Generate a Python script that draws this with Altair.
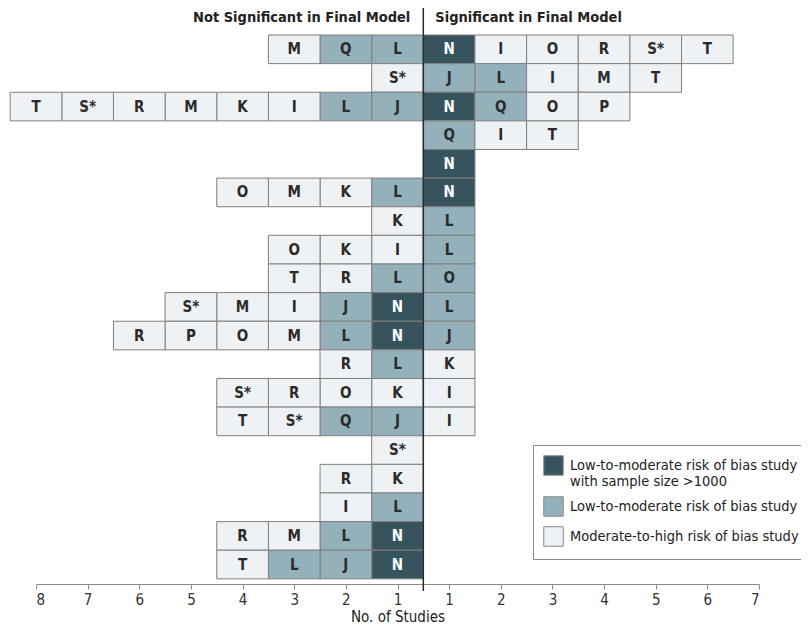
import altair as alt
import pandas as pd

# ---- data: each row lists cells from position 1 outward ----
left_letters = [
    ["L", "Q", "M"],
    ["S*"],
    ["J", "L", "I", "K", "M", "R", "S*", "T"],
    [],
    [],
    ["L", "K", "M", "O"],
    ["K"],
    ["I", "K", "O"],
    ["L", "R", "T"],
    ["N", "J", "I", "M", "S*"],
    ["N", "L", "M", "O", "P", "R"],
    ["L", "R"],
    ["K", "O", "R", "S*"],
    ["J", "Q", "S*", "T"],
    ["S*"],
    ["K", "R"],
    ["L", "I"],
    ["N", "L", "M", "R"],
    ["N", "J", "L", "T"],
]
left_risk = [
    ["m", "m", "l"],
    ["l"],
    ["m", "m", "l", "l", "l", "l", "l", "l"],
    [],
    [],
    ["m", "l", "l", "l"],
    ["l"],
    ["l", "l", "l"],
    ["m", "l", "l"],
    ["d", "m", "l", "l", "l"],
    ["d", "m", "l", "l", "l", "l"],
    ["m", "l"],
    ["l", "l", "l", "l"],
    ["m", "m", "l", "l"],
    ["l"],
    ["l", "l"],
    ["m", "l"],
    ["d", "m", "l", "l"],
    ["d", "m", "m", "l"],
]
right_letters = [
    ["N", "I", "O", "R", "S*", "T"],
    ["J", "L", "I", "M", "T"],
    ["N", "Q", "O", "P"],
    ["Q", "I", "T"],
    ["N"],
    ["N"],
    ["L"],
    ["L"],
    ["O"],
    ["L"],
    ["J"],
    ["K"],
    ["I"],
    ["I"],
    [], [], [], [], [],
]
right_risk = [
    ["d", "l", "l", "l", "l", "l"],
    ["m", "m", "l", "l", "l"],
    ["d", "m", "l", "l"],
    ["m", "l", "l"],
    ["d"],
    ["d"],
    ["m"],
    ["m"],
    ["m"],
    ["m"],
    ["m"],
    ["l"],
    ["l"],
    ["l"],
    [], [], [], [], [],
]

risk_names = {
    "d": "Low-to-moderate risk of bias study with sample size >1000",
    "m": "Low-to-moderate risk of bias study",
    "l": "Moderate-to-high risk of bias study",
}
risk_order = [risk_names["d"], risk_names["m"], risk_names["l"]]
risk_colors = ["#37535e", "#93b0bb", "#eef2f5"]

headers = ["Not Significant in Final Model", "Significant in Final Model"]
tick_values = [-7.5, -6.5, -5.5, -4.5, -3.5, -2.5, -1.5, -0.5,
               0.5, 1.5, 2.5, 3.5, 4.5, 5.5, 6.5]

FONT = "Liberation Sans Narrow, DejaVu Sans Condensed, Roboto Condensed, Roboto, sans-serif"

records = []
n_rows = len(left_letters)
for r in range(n_rows):
    for k, (let, rk) in enumerate(zip(left_letters[r], left_risk[r]), start=1):
        records.append(dict(row=r + 1, x=-k, x2=-(k - 1), letter=let, risk=risk_names[rk]))
    for k, (let, rk) in enumerate(zip(right_letters[r], right_risk[r]), start=1):
        records.append(dict(row=r + 1, x=k - 1, x2=k, letter=let, risk=risk_names[rk]))
df = pd.DataFrame(records)
df["y0"] = df["row"] - 1
df["y1"] = df["row"]
df["xc"] = (df["x"] + df["x2"]) / 2
df["yc"] = df["row"] - 0.5
df["dark"] = df["risk"] == risk_names["d"]

x_scale = alt.Scale(domain=[-7.5, 6.5], nice=False, zero=False)
y_scale = alt.Scale(domain=[0, 19.18], nice=False, zero=False, reverse=True)
AX_TITLE = "No. of Studies"

x_axis = alt.Axis(
    values=tick_values,
    labelExpr="abs(datum.value) + 0.5",
    grid=False,
    domainColor="#8a8a8a",
    tickColor="#8a8a8a",
    tickSize=5,
    labelFont=FONT,
    labelFontSize=15,
    labelColor="#333333",
    labelPadding=3,
    title=AX_TITLE,
    titleFont=FONT,
    titleFontSize=15,
    titleFontWeight="normal",
    titleColor="#222222",
    titlePadding=2,
)

legend = alt.Legend(
    title=None,
    orient="none",
    legendX=497,
    legendY=410,
    symbolType="square",
    symbolSize=380,
    symbolStrokeColor="#8a8a8a",
    symbolStrokeWidth=1,
    symbolOpacity=1,
    labelFont=FONT,
    labelFontSize=14.5,
    labelColor="#222222",
    labelLimit=400,
    labelOffset=6,
    strokeColor="#8a8a8a",
    fillColor="white",
    padding=10,
    rowPadding=5,
    labelExpr=(
        "datum.label == '" + risk_names["d"] + "' ? "
        "['Low-to-moderate risk of bias study', 'with sample size >1000'] : datum.label"
    ),
)

base = alt.Chart(df)

rects = base.mark_rect(stroke="#7f7f7f", strokeWidth=1).encode(
    x=alt.X("x:Q", scale=x_scale, axis=x_axis),
    x2="x2:Q",
    y=alt.Y("y0:Q", scale=y_scale, axis=None),
    y2="y1:Q",
    fill=alt.Fill("risk:N", scale=alt.Scale(domain=risk_order, range=risk_colors), legend=legend),
)

letters = base.mark_text(font=FONT, fontWeight="bold", fontSize=15, baseline="middle").encode(
    x=alt.X("xc:Q", scale=x_scale, title=AX_TITLE),
    y=alt.Y("yc:Q", scale=y_scale, axis=None),
    text="letter:N",
    color=alt.condition("datum.dark", alt.value("white"), alt.value("#2b2b2b")),
)

divider = alt.Chart(pd.DataFrame({"x": [0]})).mark_rule(color="#2b2b2b", strokeWidth=1.5).encode(
    x=alt.X("x:Q", scale=x_scale, title=AX_TITLE),
    y=alt.value(-27),
    y2=alt.value(556),
)

head_df = pd.DataFrame({"label": headers, "x": [0, 0]})
head_left = alt.Chart(head_df.iloc[[0]]).mark_text(
    font=FONT, fontWeight="bold", fontSize=14.5, align="right", baseline="middle", dx=-13, color="#222222"
).encode(x=alt.X("x:Q", scale=x_scale, title=AX_TITLE), y=alt.value(-17), text="label:N")
head_right = alt.Chart(head_df.iloc[[1]]).mark_text(
    font=FONT, fontWeight="bold", fontSize=14.5, align="left", baseline="middle", dx=12, color="#222222"
).encode(x=alt.X("x:Q", scale=x_scale, title=AX_TITLE), y=alt.value(-17), text="label:N")

chart = alt.layer(rects, letters, divider, head_left, head_right).properties(
    width=723,
    height=549,
    autosize="none",
    padding={"left": 28, "top": 27, "right": 42, "bottom": 41},
    background="white",
).configure_view(stroke=None)

chart.save("out.html", embed_options={"renderer": "svg", "actions": False})
